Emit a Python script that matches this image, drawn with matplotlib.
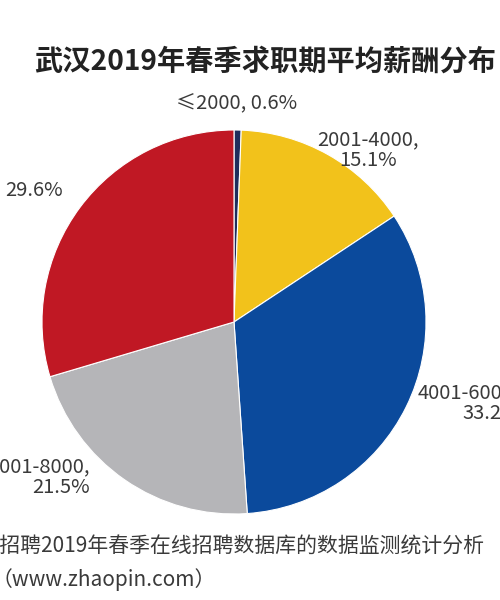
import matplotlib
matplotlib.use("Agg")
import matplotlib.pyplot as plt

plt.rcParams['font.family'] = ['Noto Sans CJK SC', 'DejaVu Sans']

categories = ["≤2000", "2001-4000", "4001-6000", "6001-8000", ">8000"]
values = [0.6, 15.1, 33.2, 21.5, 29.6]
colors = ["#1f2d5c", "#f2c21b", "#0b4a9c", "#b5b5b8", "#c01824"]
labels = ["≤2000, 0.6%", "2001-4000,\n15.1%", "4001-6000,\n33.2%", "6001-8000,\n21.5%", "29.6%"]
title = "武汉2019年春季求职期平均薪酬分布"
source1 = "来源：智联招聘2019年春季在线招聘数据库的数据监测统计分析"
source2 = "（www.zhaopin.com）"

fig = plt.figure(figsize=(5, 6), dpi=100)
ax = fig.add_axes([0, 0, 1, 1])

def Y(py):
    return 600 - py

ax.pie(values, colors=colors, startangle=90, counterclock=False,
       center=(234, Y(322)), radius=192, frame=True,
       wedgeprops=dict(linewidth=0.8, edgecolor='white'))
ax.set_xlim(0, 500)
ax.set_ylim(0, 600)
ax.set_aspect('equal')
ax.axis('off')

tc = "#3a3a3a"
fs = 14.5
ax.text(34, Y(62), title, fontsize=20.3, fontweight='bold', color="#222222", va='center', ha='left')
ax.text(237, Y(104), labels[0], fontsize=fs, color=tc, ha='center', va='center')
ax.text(368, Y(150), labels[1], fontsize=fs, color=tc, ha='center', va='center', multialignment='center', linespacing=1.0)
ax.text(418, Y(403), labels[2], fontsize=fs, color=tc, ha='left', va='center', multialignment='right', linespacing=1.0)
ax.text(90, Y(477), labels[3], fontsize=fs, color=tc, ha='right', va='center', multialignment='right', linespacing=1.0)
ax.text(5, Y(190), labels[4], fontsize=fs, color=tc, ha='left', va='center')
ax.text(484, Y(547), source1, fontsize=15, color=tc, ha='right', va='center')
ax.text(-8, Y(580), source2, fontsize=15, color=tc, ha='left', va='center')

fig.savefig("out.png", dpi=100, facecolor='white')
